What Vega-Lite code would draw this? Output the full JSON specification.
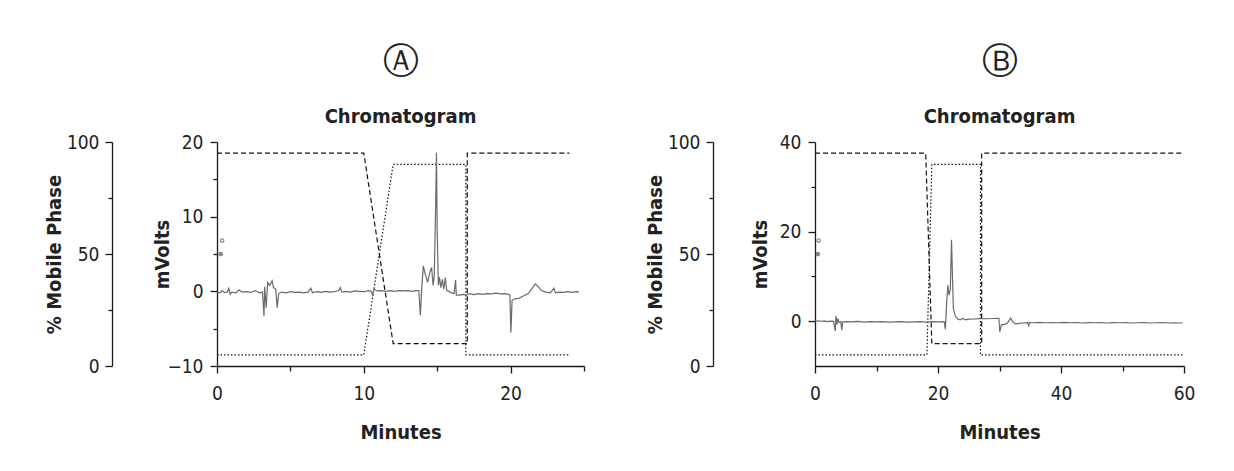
{
  "$schema": "https://vega.github.io/schema/vega-lite/v6.json",
  "background": "white",
  "padding": {"left": 44, "top": 44, "right": 5, "bottom": 5},
  "spacing": 60,
  "config": {
    "font": "DejaVu Sans Condensed, sans-serif",
    "view": {"stroke": null},
    "axis": {
      "domainColor": "#1a1a1a", "domainWidth": 1.3, "tickColor": "#1a1a1a", "tickWidth": 1.3,
      "labelFont": "DejaVu Sans Condensed, sans-serif",
      "titleFont": "DejaVu Sans Condensed, sans-serif",
      "labelFontSize": 19, "labelColor": "#222", "titleFontSize": 20, "titleFontWeight": "bold",
      "titleColor": "#222", "grid": false, "labelFlush": false, "labelOverlap": false
    }
  },
  "datasets": {
    "gradA": [
      {"t": 0, "pct": 95, "solvent": "A"}, {"t": 10, "pct": 95, "solvent": "A"}, {"t": 12, "pct": 10, "solvent": "A"}, {"t": 17.05, "pct": 10, "solvent": "A"}, {"t": 17.05, "pct": 95, "solvent": "A"}, {"t": 24, "pct": 95, "solvent": "A"},
      {"t": 0, "pct": 5, "solvent": "B"}, {"t": 10, "pct": 5, "solvent": "B"}, {"t": 12, "pct": 90, "solvent": "B"}, {"t": 16.95, "pct": 90, "solvent": "B"}, {"t": 16.95, "pct": 5, "solvent": "B"}, {"t": 24, "pct": 5, "solvent": "B"}
    ],
    "gradB": [
      {"t": 0, "pct": 95, "solvent": "A"}, {"t": 18, "pct": 95, "solvent": "A"}, {"t": 19, "pct": 10, "solvent": "A"}, {"t": 27.1, "pct": 10, "solvent": "A"}, {"t": 27.1, "pct": 95, "solvent": "A"}, {"t": 60, "pct": 95, "solvent": "A"},
      {"t": 0, "pct": 5, "solvent": "B"}, {"t": 18.2, "pct": 5, "solvent": "B"}, {"t": 19, "pct": 90, "solvent": "B"}, {"t": 26.9, "pct": 90, "solvent": "B"}, {"t": 26.9, "pct": 5, "solvent": "B"}, {"t": 60, "pct": 5, "solvent": "B"}
    ],
    "markA": [{"t": 0.35, "pct": 56, "kind": "open"}, {"t": 0.25, "pct": 50, "kind": "filled"}],
    "markB": [{"t": 0.6, "pct": 56, "kind": "open"}, {"t": 0.45, "pct": 50, "kind": "filled"}],
    "traceA": [
      {"t": 0.0, "mv": -0.1}, {"t": 0.2, "mv": -0.2}, {"t": 0.35, "mv": 0.1}, {"t": 0.5, "mv": -0.15}, {"t": 0.7, "mv": -0.1}, {"t": 0.8, "mv": 0.4}, {"t": 0.9, "mv": -0.4}, {"t": 1.0, "mv": -0.1}, {"t": 1.3, "mv": -0.2}, {"t": 1.5, "mv": 0.2}, {"t": 1.7, "mv": -0.1}, {"t": 2.0, "mv": -0.05}, {"t": 2.3, "mv": -0.15}, {"t": 2.6, "mv": 0.1}, {"t": 2.9, "mv": -0.2}, {"t": 3.1, "mv": -0.1}, {"t": 3.2, "mv": -3.3}, {"t": 3.25, "mv": 0.6}, {"t": 3.35, "mv": -2.2}, {"t": 3.45, "mv": 1.2}, {"t": 3.6, "mv": 0.8}, {"t": 3.75, "mv": 1.4}, {"t": 3.85, "mv": 0.5}, {"t": 4.0, "mv": 0.3}, {"t": 4.1, "mv": -2.2}, {"t": 4.2, "mv": -0.3}, {"t": 4.4, "mv": -0.1}, {"t": 4.7, "mv": -0.2}, {"t": 5.0, "mv": -0.05}, {"t": 5.3, "mv": -0.15}, {"t": 5.6, "mv": -0.1}, {"t": 5.9, "mv": -0.2}, {"t": 6.2, "mv": -0.1}, {"t": 6.4, "mv": 0.4}, {"t": 6.5, "mv": -0.2}, {"t": 6.8, "mv": -0.05}, {"t": 7.1, "mv": -0.15}, {"t": 7.4, "mv": 0.0}, {"t": 7.7, "mv": -0.1}, {"t": 8.0, "mv": -0.05}, {"t": 8.3, "mv": 0.1}, {"t": 8.4, "mv": 0.5}, {"t": 8.5, "mv": -0.1}, {"t": 8.8, "mv": 0.0}, {"t": 9.1, "mv": -0.1}, {"t": 9.4, "mv": 0.05}, {"t": 9.7, "mv": 0.0}, {"t": 10.0, "mv": -0.05}, {"t": 10.3, "mv": 0.1}, {"t": 10.5, "mv": 0.0}, {"t": 10.6, "mv": -0.5}, {"t": 10.7, "mv": 0.3}, {"t": 10.9, "mv": 0.05}, {"t": 11.2, "mv": 0.1}, {"t": 11.5, "mv": 0.0}, {"t": 11.8, "mv": 0.1}, {"t": 12.1, "mv": 0.0}, {"t": 12.4, "mv": 0.1}, {"t": 12.7, "mv": 0.05}, {"t": 13.0, "mv": 0.1}, {"t": 13.3, "mv": 0.0}, {"t": 13.6, "mv": 0.1}, {"t": 13.75, "mv": 0.1}, {"t": 13.85, "mv": -3.2}, {"t": 13.95, "mv": 0.5}, {"t": 14.05, "mv": 3.4}, {"t": 14.2, "mv": 2.2}, {"t": 14.35, "mv": 1.2}, {"t": 14.5, "mv": 2.6}, {"t": 14.62, "mv": 3.2}, {"t": 14.72, "mv": 0.8}, {"t": 14.8, "mv": 2.0}, {"t": 14.9, "mv": 12}, {"t": 14.95, "mv": 18.6}, {"t": 15.0, "mv": 8}, {"t": 15.08, "mv": 0.8}, {"t": 15.15, "mv": 1.9}, {"t": 15.25, "mv": 0.5}, {"t": 15.35, "mv": 1.6}, {"t": 15.45, "mv": 0.3}, {"t": 15.55, "mv": 1.8}, {"t": 15.65, "mv": 0.1}, {"t": 15.8, "mv": 0.0}, {"t": 15.95, "mv": -0.2}, {"t": 16.15, "mv": -0.3}, {"t": 16.25, "mv": 1.5}, {"t": 16.3, "mv": -0.5}, {"t": 16.5, "mv": -0.5}, {"t": 16.8, "mv": -0.4}, {"t": 17.0, "mv": -0.5}, {"t": 17.2, "mv": -0.3}, {"t": 17.5, "mv": -0.45}, {"t": 17.8, "mv": -0.3}, {"t": 18.1, "mv": -0.4}, {"t": 18.4, "mv": -0.3}, {"t": 18.7, "mv": -0.35}, {"t": 19.0, "mv": -0.25}, {"t": 19.3, "mv": -0.35}, {"t": 19.6, "mv": -0.3}, {"t": 19.85, "mv": -0.4}, {"t": 19.95, "mv": -0.5}, {"t": 20.02, "mv": -5.5}, {"t": 20.1, "mv": -1.2}, {"t": 20.3, "mv": -1.0}, {"t": 20.6, "mv": -0.9}, {"t": 20.9, "mv": -0.6}, {"t": 21.2, "mv": -0.3}, {"t": 21.5, "mv": 0.5}, {"t": 21.7, "mv": 1.0}, {"t": 21.9, "mv": 0.6}, {"t": 22.1, "mv": 0.1}, {"t": 22.4, "mv": -0.1}, {"t": 22.7, "mv": -0.2}, {"t": 22.95, "mv": 0.4}, {"t": 23.05, "mv": -0.2}, {"t": 23.3, "mv": -0.1}, {"t": 23.6, "mv": -0.15}, {"t": 23.9, "mv": -0.05}, {"t": 24.2, "mv": -0.15}, {"t": 24.5, "mv": -0.05}, {"t": 24.66, "mv": -0.1}
    ],
    "traceB": [
      {"t": 0.0, "mv": 0.0}, {"t": 0.5, "mv": 0.1}, {"t": 1.0, "mv": -0.05}, {"t": 1.5, "mv": 0.05}, {"t": 2.0, "mv": -0.1}, {"t": 2.5, "mv": 0.0}, {"t": 3.0, "mv": -0.05}, {"t": 3.3, "mv": -2.2}, {"t": 3.4, "mv": 1.2}, {"t": 3.55, "mv": -0.8}, {"t": 3.7, "mv": 0.6}, {"t": 3.9, "mv": -0.3}, {"t": 4.2, "mv": -0.1}, {"t": 4.35, "mv": -2.0}, {"t": 4.5, "mv": -0.2}, {"t": 5, "mv": -0.1}, {"t": 6, "mv": -0.15}, {"t": 7, "mv": -0.05}, {"t": 8, "mv": -0.2}, {"t": 9, "mv": -0.1}, {"t": 10, "mv": -0.15}, {"t": 11, "mv": -0.1}, {"t": 12, "mv": -0.2}, {"t": 13, "mv": -0.15}, {"t": 14, "mv": -0.1}, {"t": 15, "mv": -0.2}, {"t": 16, "mv": -0.15}, {"t": 17, "mv": -0.1}, {"t": 18, "mv": -0.2}, {"t": 19, "mv": -0.1}, {"t": 20, "mv": -0.15}, {"t": 21.0, "mv": -0.1}, {"t": 21.2, "mv": -1.8}, {"t": 21.4, "mv": 4.0}, {"t": 21.6, "mv": 8.0}, {"t": 21.8, "mv": 5.8}, {"t": 22.0, "mv": 7.0}, {"t": 22.2, "mv": 18.2}, {"t": 22.35, "mv": 10}, {"t": 22.5, "mv": 2.8}, {"t": 22.8, "mv": 1.2}, {"t": 23.2, "mv": 0.5}, {"t": 23.6, "mv": 0.3}, {"t": 24.0, "mv": 0.6}, {"t": 24.5, "mv": 0.3}, {"t": 25, "mv": 0.45}, {"t": 26, "mv": 0.5}, {"t": 27, "mv": 0.6}, {"t": 28, "mv": 0.55}, {"t": 29, "mv": 0.6}, {"t": 29.9, "mv": 0.65}, {"t": 30.05, "mv": -2.4}, {"t": 30.3, "mv": -0.8}, {"t": 30.8, "mv": -0.7}, {"t": 31.3, "mv": -0.4}, {"t": 31.8, "mv": 0.7}, {"t": 32.2, "mv": -0.2}, {"t": 32.6, "mv": -0.6}, {"t": 33.2, "mv": -0.5}, {"t": 33.8, "mv": -0.4}, {"t": 34.6, "mv": -0.3}, {"t": 34.75, "mv": -1.0}, {"t": 34.9, "mv": -0.3}, {"t": 35.5, "mv": -0.35}, {"t": 36.5, "mv": -0.25}, {"t": 37.5, "mv": -0.35}, {"t": 38.5, "mv": -0.3}, {"t": 39.5, "mv": -0.35}, {"t": 40.5, "mv": -0.25}, {"t": 41.5, "mv": -0.35}, {"t": 42.5, "mv": -0.3}, {"t": 43.5, "mv": -0.4}, {"t": 44.5, "mv": -0.3}, {"t": 45.5, "mv": -0.35}, {"t": 46.5, "mv": -0.3}, {"t": 47.5, "mv": -0.4}, {"t": 48.5, "mv": -0.3}, {"t": 49.5, "mv": -0.35}, {"t": 50.5, "mv": -0.3}, {"t": 51.5, "mv": -0.4}, {"t": 52.5, "mv": -0.35}, {"t": 53.5, "mv": -0.3}, {"t": 54.5, "mv": -0.4}, {"t": 55.5, "mv": -0.35}, {"t": 56.5, "mv": -0.3}, {"t": 57.5, "mv": -0.4}, {"t": 58.5, "mv": -0.35}, {"t": 59.5, "mv": -0.4}, {"t": 59.8, "mv": -0.35}
    ]
  },
  "hconcat": [
    {
      "width": 367, "height": 224,
      "title": {"text": "Ⓐ", "subtitle": "Chromatogram", "anchor": "middle", "frame": "group", "font": "DejaVu Sans", "fontSize": 36, "fontWeight": "normal", "color": "#222", "subtitleFont": "DejaVu Sans Condensed, sans-serif", "subtitleFontSize": 20, "subtitleFontWeight": "bold", "subtitleColor": "#222", "subtitlePadding": 26, "offset": 5},
      "layer": [
        {
          "layer": [
            {
              "data": {"name": "gradA"},
              "mark": {"type": "line", "color": "#111", "strokeWidth": 1.2},
              "encoding": {
                "x": {"field": "t", "type": "quantitative", "scale": {"domain": [0, 25], "nice": false}},
                "y": {"field": "pct", "type": "quantitative", "scale": {"domain": [0, 100], "nice": false},
                  "axis": {"orient": "left", "offset": 105, "values": [0, 25, 50, 75, 100], "labelExpr": "datum.value % 50 === 0 ? datum.label : ''", "tickSize": {"condition": {"test": "datum.value % 50 === 0", "value": 7}, "value": 4}, "labelPadding": 6, "title": "% Mobile Phase", "titleX": -58, "titleY": 112, "titleAngle": -90, "titleAlign": "center", "titleBaseline": "middle"}},
                "strokeDash": {"field": "solvent", "type": "nominal", "scale": {"domain": ["A", "B"], "range": [[5, 3], [1.5, 2]]}, "legend": null},
                "order": {"field": "t"}
              }
            },
            {
              "data": {"name": "markA"},
              "mark": {"type": "point", "size": 12, "strokeWidth": 1.2},
              "encoding": {
                "x": {"field": "t", "type": "quantitative"},
                "y": {"field": "pct", "type": "quantitative"},
                "fill": {"field": "kind", "type": "nominal", "scale": {"domain": ["open", "filled"], "range": ["white", "#555"]}, "legend": null},
                "color": {"value": "#555"}
              }
            }
          ]
        },
        {
          "data": {"name": "traceA"},
          "mark": {"type": "line", "color": "#6a6a6a", "strokeWidth": 1.2},
          "encoding": {
            "x": {"field": "t", "type": "quantitative", "scale": {"domain": [0, 25], "nice": false},
              "axis": {"values": [0, 5, 10, 15, 20, 25], "labelExpr": "datum.value % 10 === 0 ? datum.label : ''", "tickSize": {"condition": {"test": "datum.value % 10 === 0", "value": 7}, "value": 5}, "labelPadding": 11, "title": "Minutes", "titlePadding": 19}},
            "y": {"field": "mv", "type": "quantitative", "scale": {"domain": [-10, 20], "nice": false},
              "axis": {"orient": "left", "values": [-10, -5, 0, 5, 10, 15, 20], "labelExpr": "datum.value % 10 === 0 ? datum.label : ''", "tickSize": {"condition": {"test": "datum.value % 10 === 0", "value": 7}, "value": 4}, "labelPadding": 7, "title": "mVolts", "titleX": -55, "titleY": 112, "titleAngle": -90, "titleAlign": "center", "titleBaseline": "middle"}}
          }
        }
      ],
      "resolve": {"scale": {"y": "independent"}, "axis": {"y": "independent"}}
    },
    {
      "width": 369, "height": 224,
      "title": {"text": "Ⓑ", "subtitle": "Chromatogram", "anchor": "middle", "frame": "group", "font": "DejaVu Sans", "fontSize": 36, "fontWeight": "normal", "color": "#222", "subtitleFont": "DejaVu Sans Condensed, sans-serif", "subtitleFontSize": 20, "subtitleFontWeight": "bold", "subtitleColor": "#222", "subtitlePadding": 26, "offset": 5},
      "layer": [
        {
          "layer": [
            {
              "data": {"name": "gradB"},
              "mark": {"type": "line", "color": "#111", "strokeWidth": 1.2},
              "encoding": {
                "x": {"field": "t", "type": "quantitative", "scale": {"domain": [0, 60], "nice": false}},
                "y": {"field": "pct", "type": "quantitative", "scale": {"domain": [0, 100], "nice": false},
                  "axis": {"orient": "left", "offset": 102, "values": [0, 25, 50, 75, 100], "labelExpr": "datum.value % 50 === 0 ? datum.label : ''", "tickSize": {"condition": {"test": "datum.value % 50 === 0", "value": 7}, "value": 4}, "labelPadding": 6, "title": "% Mobile Phase", "titleX": -58, "titleY": 112, "titleAngle": -90, "titleAlign": "center", "titleBaseline": "middle"}},
                "strokeDash": {"field": "solvent", "type": "nominal", "scale": {"domain": ["A", "B"], "range": [[5, 3], [1.5, 2]]}, "legend": null},
                "order": {"field": "t"}
              }
            },
            {
              "data": {"name": "markB"},
              "mark": {"type": "point", "size": 12, "strokeWidth": 1.2},
              "encoding": {
                "x": {"field": "t", "type": "quantitative"},
                "y": {"field": "pct", "type": "quantitative"},
                "fill": {"field": "kind", "type": "nominal", "scale": {"domain": ["open", "filled"], "range": ["white", "#555"]}, "legend": null},
                "color": {"value": "#555"}
              }
            }
          ]
        },
        {
          "data": {"name": "traceB"},
          "mark": {"type": "line", "color": "#6a6a6a", "strokeWidth": 1.2},
          "encoding": {
            "x": {"field": "t", "type": "quantitative", "scale": {"domain": [0, 60], "nice": false},
              "axis": {"values": [0, 10, 20, 30, 40, 50, 60], "labelExpr": "datum.value % 20 === 0 ? datum.label : ''", "tickSize": {"condition": {"test": "datum.value % 20 === 0", "value": 7}, "value": 5}, "labelPadding": 11, "title": "Minutes", "titlePadding": 19}},
            "y": {"field": "mv", "type": "quantitative", "scale": {"domain": [-10, 40], "nice": false},
              "axis": {"orient": "left", "values": [0, 10, 20, 30, 40], "labelExpr": "datum.value % 20 === 0 ? datum.label : ''", "tickSize": {"condition": {"test": "datum.value % 20 === 0", "value": 7}, "value": 4}, "labelPadding": 7, "title": "mVolts", "titleX": -55, "titleY": 112, "titleAngle": -90, "titleAlign": "center", "titleBaseline": "middle"}}
          }
        }
      ],
      "resolve": {"scale": {"y": "independent"}, "axis": {"y": "independent"}}
    }
  ]
}
